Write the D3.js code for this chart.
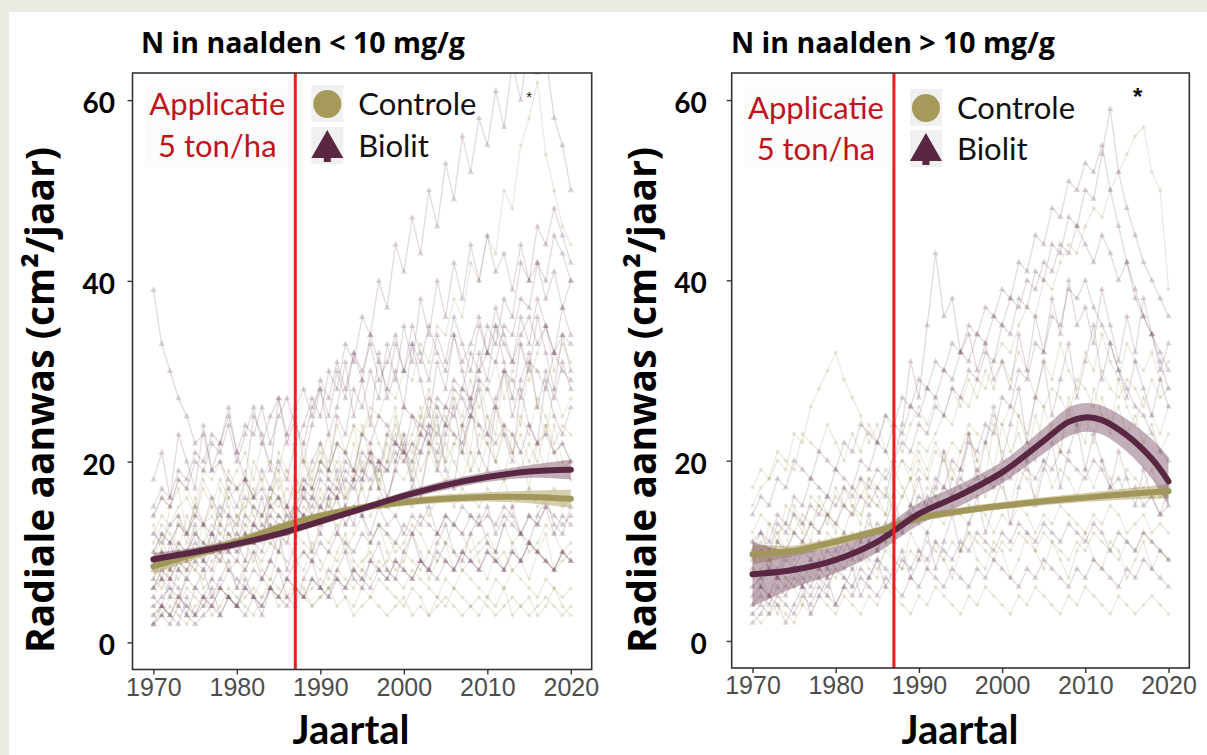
<!DOCTYPE html>
<html>
<head>
<meta charset="utf-8">
<script src="https://cdn.jsdelivr.net/npm/d3@7"></script>
<style>
  html, body { margin: 0; padding: 0; background: #ebebe3; }
  svg { display: block; }
</style>
</head>
<body>
<svg id="chart" width="1207" height="755"></svg>
<script>
// ---- data -------------------------------------------------------------
const years = d3.range(1970, 2021);
const xTicks = [1970, 1980, 1990, 2000, 2010, 2020];
const yTicks = [0, 20, 40, 60];
const applicationYear = 1987;
const groups = ["Controle", "Biolit"];

// individual trees, N < 10 mg/g, controle (one value per year 1970..2020)
const leftControle = [
  [4,3,5,4,6,5,4,5,6,5, 4,5,6,5,7,6,5,6,5,4, 5,6,4,5,3,4,5,4,3,4, 5,3,4,3,4,5,4,3,4,5, 4,3,4,5,4,3,4,5,4,3, 4],
  [7,6,8,7,9,8,7,9,10,8, 9,8,10,9,11,10,9,8,10,9, 8,10,9,11,8,9,10,8,9,11, 10,9,8,10,9,11,10,8,9,10, 11,9,10,8,9,11,10,9,8,10, 9],
  [10,12,11,13,12,10,13,14,12,13, 14,12,15,13,14,16,13,15,14,13, 15,14,16,13,15,17,14,16,15,14, 16,15,17,14,16,18,15,17,16,15, 17,16,18,15,16,17,15,16,17,15, 16],
  [12,14,13,15,16,14,17,15,18,16, 17,19,16,18,20,17,19,18,16,19, 21,18,20,17,22,19,21,18,20,23, 20,22,19,21,24,20,22,21,19,23, 22,20,24,21,23,20,22,24,21,22, 20],
  [6,8,7,9,8,10,9,11,10,12, 11,13,12,14,13,12,14,13,15,14, 16,15,17,16,18,20,17,19,22,20, 23,21,25,22,26,24,27,25,29,26, 28,31,27,30,33,29,32,35,30,33, 31],
  [9,10,8,11,10,12,11,13,12,11, 14,13,15,14,16,15,17,16,18,17, 20,19,22,21,24,23,26,25,28,27, 30,29,33,31,35,34,38,36,42,40, 45,43,50,48,55,58,62,54,50,46, 44],
  [3,4,3,5,4,3,5,4,6,5, 4,6,5,7,6,5,7,6,5,6, 7,6,8,7,6,8,7,9,8,7, 6,8,7,6,5,7,6,8,7,6, 5,7,6,8,7,6,5,7,6,5, 6],
  [14,16,15,18,17,15,19,18,20,17, 19,21,18,22,20,19,23,21,20,18, 22,20,24,21,19,23,25,22,20,24, 21,23,26,22,20,25,23,21,27,24, 22,26,24,21,25,23,27,25,22,24, 23],
  [8,9,7,10,9,8,11,10,9,12, 10,11,9,12,11,10,13,12,11,10, 12,11,13,10,12,14,11,13,12,10, 11,13,12,10,12,11,13,12,10,11, 12,10,13,11,12,10,11,13,12,10, 11],
  [11,13,12,10,14,12,13,15,13,16, 14,15,17,14,16,18,15,17,16,14, 17,15,18,16,19,17,20,18,16,19, 18,20,17,21,19,22,20,18,21,19, 22,20,23,21,19,22,20,24,21,19, 20],
  [5,7,6,4,8,9,6,7,10,8, 6,9,11,8,7,10,12,9,8,11, 9,7,10,12,9,8,11,13,10,8, 9,12,10,7,9,11,8,10,12,9, 7,10,8,11,9,7,10,12,8,9, 10],
  [13,10,15,17,12,14,18,16,13,19, 17,14,20,18,15,21,19,16,22,17, 20,23,18,21,24,19,22,17,20,25, 21,18,23,26,20,17,22,24,19,21, 25,20,18,23,21,17,22,19,24,20, 18],
  [2,3,4,3,2,4,5,3,4,6, 5,4,3,5,6,4,5,7,6,4, 5,6,7,5,4,6,5,7,6,5, 4,6,5,3,5,4,6,5,4,3, 5,4,6,3,4,5,3,4,6,4, 3],
  [9,12,8,14,11,16,13,10,17,15, 12,18,14,11,16,19,15,13,20,17, 14,19,22,16,18,24,20,17,23,26, 21,19,25,28,22,20,27,24,21,29, 25,23,30,27,24,31,26,23,28,25, 27]
];

// individual trees, N < 10 mg/g, biolit
const leftBiolit = [
  [39,33,30,27,25,22,23,19,20,18, 17,18,16,17,15,16,14,15,14,13, 15,14,16,13,15,14,12,15,13,14, 12,14,13,15,12,14,13,12,14,13, 15,12,14,13,12,14,13,15,12,14, 13],
  [2,3,2,4,3,2,3,4,3,5, 4,3,5,4,6,5,4,6,5,7, 6,5,7,6,8,7,6,8,7,9, 8,7,9,8,7,9,8,10,9,8, 10,9,8,10,9,11,10,9,8,10, 9],
  [6,7,5,8,7,9,8,10,9,11, 10,12,11,13,12,14,13,15,17,20, 22,19,25,23,28,26,30,27,33,29, 35,31,38,34,40,36,42,38,44,40, 45,41,43,39,44,40,42,38,41,37, 40],
  [12,11,13,14,12,15,13,16,14,17, 15,18,16,19,17,20,18,22,24,27, 25,30,28,33,31,36,34,40,37,44, 41,47,43,50,46,53,49,56,52,58, 55,61,57,64,60,67,63,65,58,55, 50],
  [8,10,9,11,10,12,11,10,13,12, 11,14,13,12,15,14,13,16,18,17, 20,19,22,21,19,23,22,25,24,22, 26,25,23,27,26,24,28,27,25,29, 28,26,30,29,27,31,30,28,32,30, 29],
  [14,16,15,18,17,20,19,22,21,24, 20,23,26,22,25,27,23,26,28,25, 29,27,31,28,32,30,33,29,31,34, 30,33,31,35,32,30,34,31,33,36, 32,35,33,31,34,36,33,35,32,34, 33],
  [4,5,6,5,7,6,5,7,6,8, 7,6,8,7,9,8,7,9,10,9, 11,10,12,11,10,12,11,13,12,11, 13,12,14,13,12,14,13,15,14,13, 14,13,15,14,12,14,13,15,14,13, 14],
  [6,8,7,9,8,10,9,8,11,10, 9,12,11,10,13,12,11,14,16,15, 18,17,16,19,18,21,20,19,23,22, 21,25,24,23,27,26,29,28,32,30, 35,33,38,36,42,40,46,44,48,45, 42],
  [15,17,16,19,18,21,20,23,22,25, 21,24,23,26,22,25,27,24,22,26, 28,25,30,27,32,29,34,31,28,33, 30,35,32,29,34,31,36,33,30,35, 32,37,34,31,36,33,38,35,32,37, 34],
  [3,4,3,5,4,3,5,4,6,5, 4,6,5,4,6,5,7,6,5,7, 6,8,7,6,8,7,9,8,7,9, 8,7,9,8,10,9,8,10,9,8, 10,9,8,10,9,11,10,9,8,10, 9],
  [10,12,11,13,12,14,13,12,15,14, 13,16,15,14,17,16,15,18,17,16, 19,18,17,20,19,18,21,20,19,22, 21,20,23,22,21,24,23,22,25,24, 23,22,24,23,21,24,22,23,21,22, 20],
  [7,9,8,10,9,11,10,12,11,10, 12,11,13,12,14,13,12,15,14,16, 15,17,16,18,17,19,18,20,19,21, 20,22,21,24,23,26,25,28,27,30, 32,31,35,34,38,37,42,40,45,43, 40],
  [5,4,7,6,3,6,8,5,7,9, 6,8,10,7,9,12,8,11,14,10, 13,16,12,15,18,14,17,20,16,19, 22,17,21,24,19,23,26,21,25,28, 23,27,30,25,29,32,26,30,27,31, 28],
  [18,21,16,23,20,17,24,19,22,26, 21,18,25,23,19,27,22,25,20,24, 28,23,26,31,25,29,24,32,27,30, 26,33,29,25,31,28,34,30,26,32, 29,35,31,27,33,30,36,32,28,34, 30],
  [9,7,11,8,10,13,9,12,10,14, 11,9,13,16,12,10,15,13,17,14, 12,16,19,15,13,18,21,17,15,20, 23,18,16,22,25,19,17,24,27,21, 19,26,23,20,28,24,22,29,25,23, 26],
  [2,4,3,2,5,3,4,6,3,5, 4,7,5,3,6,8,5,4,7,9, 6,5,8,10,7,6,9,11,8,7, 10,12,9,8,11,13,10,9,12,14, 11,10,13,15,12,11,14,16,13,12, 15]
];

// individual trees, N > 10 mg/g, controle
const rightControle = [
  [3,2,3,4,3,2,4,3,5,4, 3,5,4,3,5,4,6,5,4,3, 5,4,6,5,4,3,5,4,6,5, 4,3,5,4,6,5,4,3,5,4, 6,5,4,3,5,4,3,4,5,4, 3],
  [6,7,5,8,7,6,8,7,9,8, 7,9,8,10,9,8,10,9,8,10, 9,11,10,9,11,10,12,11,10,9, 11,10,12,11,10,12,11,10,9,11, 10,12,11,10,9,11,10,12,11,10, 9],
  [12,14,13,11,15,14,12,16,15,13, 17,15,14,18,16,15,17,14,16,18, 15,17,16,14,18,17,15,19,16,18, 17,15,19,18,16,20,17,19,18,16, 19,17,20,18,16,19,18,17,19,16, 18],
  [15,17,18,20,19,23,22,26,28,30, 32,29,27,25,22,24,21,19,20,18, 21,19,22,20,18,21,23,20,22,19, 24,21,23,20,25,22,24,21,26,23, 25,22,27,24,26,23,25,22,24,21, 23],
  [8,10,9,11,10,12,11,13,12,14, 13,12,15,14,16,15,14,17,16,18, 19,18,21,20,22,21,24,23,22,25, 24,26,25,23,27,26,28,27,25,29, 28,26,30,28,27,29,28,26,29,27, 28],
  [10,11,10,12,13,12,14,13,15,14, 16,15,17,16,18,17,19,18,20,19, 22,21,23,25,24,27,26,29,28,31, 33,32,35,37,36,40,39,42,44,43, 46,48,47,50,52,54,56,57,52,50, 39],
  [17,19,18,21,20,19,23,22,21,24, 22,20,23,21,24,22,25,23,21,24, 26,24,27,25,28,26,29,27,30,28, 31,29,32,30,27,31,29,33,30,28, 32,30,34,31,29,33,31,30,32,29, 31],
  [7,8,9,8,10,9,11,10,9,12, 11,10,12,11,13,12,11,13,12,14, 13,12,14,13,15,14,13,15,14,12, 14,13,15,14,12,14,13,15,14,13, 12,14,13,15,14,12,13,14,12,13, 12],
  [4,6,5,3,7,6,4,8,7,5, 9,7,6,10,8,7,11,9,8,12, 10,8,11,9,7,10,12,9,8,11, 10,7,9,12,10,8,11,9,7,10, 12,9,8,11,10,7,9,11,8,10, 9],
  [11,9,13,12,10,15,13,11,16,14, 12,17,15,13,18,16,14,19,17,15, 20,18,16,21,19,17,23,20,18,24, 21,19,25,22,20,26,23,21,27,24, 22,28,25,23,29,26,24,27,25,23, 26]
];

// individual trees, N > 10 mg/g, biolit
const rightBiolit = [
  [3,4,3,5,4,3,5,4,6,5, 4,6,5,7,6,5,7,6,5,7, 6,8,7,6,8,7,6,8,7,9, 8,7,6,8,7,9,8,7,6,8, 7,9,8,7,6,8,7,9,8,7, 6],
  [5,6,5,7,6,8,7,6,8,7, 9,8,10,9,11,10,12,11,13,14, 16,15,18,17,20,19,22,21,24,23, 27,26,30,29,33,32,36,35,39,38, 40,37,35,33,30,28,26,25,23,21, 20],
  [9,10,8,11,10,12,11,13,12,14, 13,15,14,16,15,17,16,20,24,31, 27,35,43,36,38,32,34,30,33,29, 31,28,34,30,36,32,38,34,40,35, 37,33,39,35,31,36,32,38,34,30, 33],
  [11,12,10,13,12,14,13,15,14,16, 15,17,16,18,17,19,18,20,22,21, 24,23,26,25,28,27,30,29,32,31, 35,34,38,37,41,40,44,43,47,46, 50,49,54,59,52,48,45,42,40,38, 36],
  [6,7,8,7,9,8,10,9,8,10, 9,11,10,12,11,13,12,14,13,15, 14,16,15,17,16,18,17,19,18,17, 19,18,20,19,18,20,19,21,20,19, 18,20,19,17,18,16,17,15,16,14, 15],
  [10,12,11,14,13,16,15,18,17,16, 19,18,17,20,19,22,21,24,23,26, 25,28,27,30,29,32,31,34,33,36, 35,38,37,40,39,42,41,44,43,46, 44,42,45,43,40,42,38,36,34,32, 30],
  [4,5,4,6,5,7,6,5,7,6, 8,7,6,8,7,9,8,7,9,8, 10,9,11,10,9,11,10,12,11,10, 12,11,13,12,11,13,12,11,13,12, 11,13,12,10,12,11,10,12,11,10, 9],
  [14,16,15,18,17,20,19,18,21,20, 19,22,21,24,23,22,25,24,27,26, 29,28,31,30,33,32,35,34,37,36, 39,38,42,41,45,44,48,47,51,50, 53,52,55,50,46,42,39,36,34,31, 28],
  [8,6,9,7,10,8,6,9,11,8, 10,12,9,11,14,10,13,16,12,15, 18,14,17,21,16,19,23,18,22,26, 20,24,28,22,27,31,25,29,33,27, 31,35,29,33,30,27,31,28,25,29, 26],
  [2,3,5,4,2,4,6,3,5,7, 4,6,8,5,7,9,6,8,10,7, 9,12,8,11,14,10,13,16,12,15, 18,13,17,20,15,19,22,17,21,24, 19,23,20,17,21,18,15,19,16,14, 17]
];

// smoothed fits with confidence band
const fitYears = [1970, 1975, 1980, 1985, 1990, 1995, 2000, 2005, 2010, 2015, 2020];
const leftControleFit = [8.4, 9.8, 11.1, 12.7, 14.0, 14.9, 15.5, 15.9, 16.1, 16.1, 15.9];
const leftControleLo  = [7.5, 9.2, 10.6, 12.25, 13.6, 14.5, 15.1, 15.45, 15.6, 15.4, 14.9];
const leftControleHi  = [9.3, 10.4, 11.6, 13.15, 14.4, 15.3, 15.9, 16.35, 16.6, 16.8, 16.9];
const leftBiolitFit = [9.2, 10.0, 10.9, 12.0, 13.4, 14.8, 16.2, 17.4, 18.3, 18.9, 19.1];
const leftBiolitLo  = [8.5, 9.5, 10.45, 11.6, 13.0, 14.4, 15.75, 16.9, 17.75, 18.2, 18.0];
const leftBiolitHi  = [9.9, 10.5, 11.35, 12.4, 13.8, 15.2, 16.65, 17.9, 18.85, 19.6, 20.2];
const rightControleFit = [9.6, 10.0, 11.0, 12.2, 13.6, 14.4, 15.0, 15.5, 15.9, 16.3, 16.6];
const rightControleLo  = [8.5, 9.4, 10.5, 11.75, 13.2, 14.0, 14.6, 15.05, 15.4, 15.7, 15.8];
const rightControleHi  = [10.7, 10.6, 11.5, 12.65, 14.0, 14.8, 15.4, 15.95, 16.4, 16.9, 17.4];
const rightBiolitYears = [1970, 1975, 1980, 1985, 1990, 1995, 2000, 2005, 2008, 2010, 2012, 2015, 2018, 2020];
const rightBiolitFit = [7.4, 7.9, 9.0, 11.0, 14.1, 16.2, 18.7, 22.2, 24.3, 24.8, 24.5, 22.8, 20.2, 17.7];
const rightBiolitLo  = [3.8, 5.9, 7.5, 9.8, 12.9, 15.0, 17.5, 20.8, 22.7, 23.2, 22.9, 21.0, 18.0, 15.0];
const rightBiolitHi  = [11.0, 9.9, 10.5, 12.2, 15.3, 17.4, 19.9, 23.6, 25.9, 26.4, 26.1, 24.6, 22.4, 20.4];

// significance marks [year, value]
const leftStar = [2015, 59.8];
const rightStar = [2016.3, 59.5];

// ---- look -------------------------------------------------------------
const colors = {
  Controle: { tree: "#a49c62", band: "#b3a86a", fit: "#a2975a" },
  Biolit: { tree: "#6e4560", band: "#7a4d66", fit: "#5a2742" }
};
const red = "#ee1c1c";
const calibri = "Lato, 'Open Sans', sans-serif";
const wide = "'Open Sans', Lato, sans-serif";

const svg = d3.select("#chart");
svg.append("rect").attr("x", 9).attr("y", 12).attr("width", 1198).attr("height", 743).attr("fill", "#fff");

const panels = [
  {
    id: "left", title: "N in naalden < 10 mg/g", titleX: 141, x0: 132.5, x1: 591.7, y0: 73, y1: 669.5,
    yPad: 12.5, yLabelX: 54, xLabelX: 351, legendY: [115, 157],
    trees: { Controle: leftControle, Biolit: leftBiolit },
    fits: {
      Controle: { years: fitYears, fit: leftControleFit, lo: leftControleLo, hi: leftControleHi },
      Biolit: { years: fitYears, fit: leftBiolitFit, lo: leftBiolitLo, hi: leftBiolitHi }
    },
    star: leftStar, starSize: 15, starWeight: 400
  },
  {
    id: "right", title: "N in naalden > 10 mg/g", titleX: 731, x0: 731.7, x1: 1189.3, y0: 73, y1: 668,
    yPad: 20, yLabelX: 656, xLabelX: 960, legendY: [119, 160],
    trees: { Controle: rightControle, Biolit: rightBiolit },
    fits: {
      Controle: { years: fitYears, fit: rightControleFit, lo: rightControleLo, hi: rightControleHi },
      Biolit: { years: rightBiolitYears, fit: rightBiolitFit, lo: rightBiolitLo, hi: rightBiolitHi }
    },
    star: rightStar, starSize: 24, starWeight: 700
  }
];

function treeShape(g, cx, cy, s, fill) {
  // little fir tree used as the Biolit key
  g.append("path")
    .attr("d", `M${cx},${cy - s} L${cx + s},${cy + s * 0.75} L${cx + s * 0.22},${cy + s * 0.75} L${cx + s * 0.22},${cy + s} L${cx - s * 0.22},${cy + s} L${cx - s * 0.22},${cy + s * 0.75} L${cx - s},${cy + s * 0.75} Z`)
    .attr("fill", fill);
}

function drawPanel(p) {
  const x = d3.scaleLinear().domain([1967.5, 2022.5]).range([p.x0, p.x1]);
  const y = d3.scaleLinear().domain([-3, 63]).range([p.y1, p.y0]);
  const g = svg.append("g");

  svg.append("clipPath").attr("id", "clip-" + p.id)
    .append("rect").attr("x", p.x0).attr("y", p.y0).attr("width", p.x1 - p.x0).attr("height", p.y1 - p.y0);
  const plot = g.append("g").attr("clip-path", `url(#clip-${p.id})`);

  const treeLine = d3.line().x((d, i) => x(years[i])).y((d) => y(d));

  groups.forEach((grp) => {
    const series = p.trees[grp];
    const layer = plot.append("g");
    layer.selectAll("path")
      .data(series)
      .join("path")
      .attr("d", treeLine)
      .attr("fill", "none")
      .attr("stroke", colors[grp].tree)
      .attr("stroke-opacity", 0.2)
      .attr("stroke-width", 1.3);

    const pts = series.flatMap((s) => s.map((v, i) => [years[i], v]));
    const sym = d3.symbol().type(grp === "Biolit" ? d3.symbolTriangle : d3.symbolCircle).size(grp === "Biolit" ? 18 : 11);
    layer.selectAll("path.pt")
      .data(pts)
      .join("path")
      .attr("class", "pt")
      .attr("d", sym)
      .attr("transform", (d) => `translate(${x(d[0])},${y(d[1])})`)
      .attr("fill", colors[grp].tree)
      .attr("fill-opacity", 0.22);
  });

  groups.forEach((grp) => {
    const f = p.fits[grp];
    const rows = f.years.map((yr, i) => ({ year: yr, fit: f.fit[i], lo: f.lo[i], hi: f.hi[i] }));
    const area = d3.area().x((d) => x(d.year)).y0((d) => y(d.lo)).y1((d) => y(d.hi)).curve(d3.curveCatmullRom);
    plot.append("path").datum(rows).attr("d", area)
      .attr("fill", colors[grp].band).attr("fill-opacity", grp === "Biolit" ? 0.45 : 0.55);
  });
  groups.forEach((grp) => {
    const f = p.fits[grp];
    const rows = f.years.map((yr, i) => ({ year: yr, fit: f.fit[i] }));
    const line = d3.line().x((d) => x(d.year)).y((d) => y(d.fit)).curve(d3.curveCatmullRom);
    plot.append("path").datum(rows).attr("d", line)
      .attr("fill", "none").attr("stroke", colors[grp].fit).attr("stroke-width", 6).attr("stroke-linecap", "round");
  });

  // application year
  g.append("line")
    .attr("x1", x(applicationYear)).attr("x2", x(applicationYear))
    .attr("y1", p.y0).attr("y2", p.y1)
    .attr("stroke", red).attr("stroke-width", 3);

  // annotation + legend
  const ax = x(applicationYear) - 78;
  g.append("rect").attr("x", ax - 72).attr("y", p.y0 + 14).attr("width", 146).attr("height", 80).attr("fill", "#fbfbfb");
  g.append("text").attr("x", ax).attr("y", p.legendY[0]).attr("text-anchor", "middle")
    .attr("font-family", calibri).attr("font-size", 31).attr("fill", "#c0141b").text("Applicatie");
  g.append("text").attr("x", ax).attr("y", p.legendY[1]).attr("text-anchor", "middle")
    .attr("font-family", calibri).attr("font-size", 31).attr("fill", "#c0141b").text("5 ton/ha");

  const kx = x(applicationYear) + 32;
  groups.forEach((grp, i) => {
    const cy = p.legendY[i] - 11;
    g.append("rect").attr("x", kx - 16).attr("y", cy - 19).attr("width", 32).attr("height", 37).attr("fill", "#f0f0f0");
    if (grp === "Controle") {
      g.append("circle").attr("cx", kx).attr("cy", cy).attr("r", 14).attr("fill", "#a69a5a");
    } else {
      treeShape(g, kx, cy, 16, colors.Biolit.fit);
    }
    g.append("text").attr("x", kx + 31).attr("y", p.legendY[i])
      .attr("font-family", calibri).attr("font-size", 31).attr("fill", "#111").text(grp);
  });

  g.append("text").attr("x", x(p.star[0])).attr("y", y(p.star[1])).attr("text-anchor", "middle")
    .attr("font-family", "'Liberation Sans', Arial, sans-serif").attr("font-size", p.starSize)
    .attr("font-weight", p.starWeight).attr("fill", "#111").text("*");

  // frame
  g.append("rect").attr("x", p.x0).attr("y", p.y0).attr("width", p.x1 - p.x0).attr("height", p.y1 - p.y0)
    .attr("fill", "none").attr("stroke", "#333").attr("stroke-width", 1.6);

  // axes
  const xAxis = g.append("g").attr("transform", `translate(0,${p.y1})`)
    .call(d3.axisBottom(x).tickValues(xTicks).tickSize(5).tickPadding(3.5).tickFormat(d3.format("d")));
  xAxis.select(".domain").remove();
  xAxis.selectAll(".tick line").attr("stroke", "#333").attr("stroke-width", 1.4);
  xAxis.selectAll(".tick text").attr("font-family", "'Liberation Sans', Arial, sans-serif")
    .attr("font-size", 25).attr("fill", "#4d4d4d");

  const yAxis = g.append("g").attr("transform", `translate(${p.x0},0)`)
    .call(d3.axisLeft(y).tickValues(yTicks).tickSize(5).tickPadding(p.yPad));
  yAxis.select(".domain").remove();
  yAxis.selectAll(".tick line").attr("stroke", "#333").attr("stroke-width", 1.4);
  yAxis.selectAll(".tick text").attr("font-family", calibri).attr("font-weight", 700)
    .attr("font-size", 28).attr("fill", "#000").attr("dy", "0.45em");

  // titles
  g.append("text").attr("x", p.titleX).attr("y", 53)
    .attr("font-family", wide).attr("font-weight", 700).attr("font-size", 28.5).attr("fill", "#000").text(p.title);
  g.append("text").attr("transform", `translate(${p.yLabelX},${400}) rotate(-90)`).attr("text-anchor", "middle")
    .attr("font-family", wide).attr("font-weight", 700).attr("font-size", 39).attr("fill", "#000")
    .text("Radiale aanwas (cm²/jaar)");
  g.append("text").attr("x", p.xLabelX).attr("y", 744).attr("text-anchor", "middle")
    .attr("font-family", calibri).attr("font-weight", 700).attr("font-size", 40).attr("fill", "#000").text("Jaartal");
}

panels.forEach(drawPanel);
</script>
</body>
</html>
